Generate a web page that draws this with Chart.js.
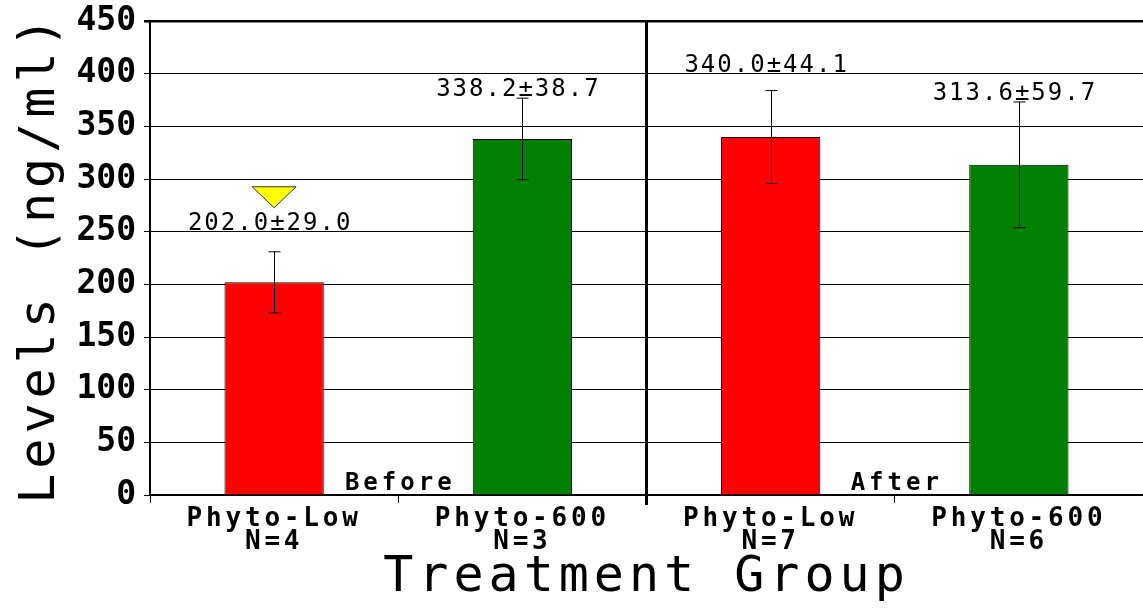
<!DOCTYPE html>
<html>
<head>
<meta charset="utf-8">
<script src="https://cdn.jsdelivr.net/npm/chart.js@4"></script>
<style>
  html, body { margin: 0; padding: 0; background: #fff; }
  canvas { display: block; }
</style>
</head>
<body>
<canvas id="levelsChart" width="1143" height="609"></canvas>
<script>
const categories = [["Phyto-Low", "N=4"], ["Phyto-600", "N=3"], ["Phyto-Low", "N=7"], ["Phyto-600", "N=6"]];
const means = [202.0, 338.2, 340.0, 313.6];
const sds = [29.0, 38.7, 44.1, 59.7];
const barColors = ["#FF0000", "#008000", "#FF0000", "#008000"];
const groups = ["Before", "After"];
const flagged = [true, false, false, false];

const MONO = "'DejaVu Sans Mono', monospace";

// letter spacing gets reset with the canvas, so it is set again at each step:
// titles (drawn with the grid), then y tick labels, then x tick labels
const spacing = {
  id: "spacing",
  beforeLayout(chart) { chart.ctx.letterSpacing = "0px"; },
  beforeDraw(chart) { chart.ctx.letterSpacing = "5px"; },
  afterInit(chart) {
    Chart.layouts.addBox(chart, {
      position: "chartArea",
      options: {},
      isHorizontal() { return false; },
      update() {},
      _layers() {
        return [{ z: 1.5, draw() { chart.ctx.letterSpacing = "3.8px"; } }];
      }
    });
  }
};

const extras = {
  id: "extras",
  afterDatasetsDraw(chart) {
    const ctx = chart.ctx;
    const x = chart.scales.x;
    const y = chart.scales.y;
    const area = chart.chartArea;
    ctx.save();

    // error bars
    ctx.strokeStyle = "#000";
    ctx.lineWidth = 1;
    means.forEach((m, i) => {
      const cx = Math.round(x.getPixelForValue(i)) + 0.5;
      const lo = y.getPixelForValue(m - sds[i]);
      const hi = y.getPixelForValue(m + sds[i]);
      ctx.beginPath();
      ctx.moveTo(cx, lo); ctx.lineTo(cx, hi);
      ctx.moveTo(cx - 6, hi); ctx.lineTo(cx + 6, hi);
      ctx.moveTo(cx - 6, lo); ctx.lineTo(cx + 6, lo);
      ctx.stroke();
    });

    // mean ± sd labels, lifted above a grid line when they would touch it
    ctx.letterSpacing = "2px";
    ctx.font = "24px " + MONO;
    ctx.fillStyle = "#000";
    ctx.textAlign = "center";
    ctx.textBaseline = "alphabetic";
    means.forEach((m, i) => {
      const cx = x.getPixelForValue(i);
      let base = y.getPixelForValue(m + sds[i]) - 2;
      const top = base - 18;
      y.ticks.forEach(t => {
        const gp = y.getPixelForValue(t.value);
        if (gp > top - 3 && gp < base) base = gp - 2;
      });
      ctx.fillText(m.toFixed(1) + "±" + sds[i].toFixed(1), cx - 4, base);

      if (flagged[i]) {
        const tip = base - 22;
        ctx.beginPath();
        ctx.moveTo(cx - 22, tip - 21);
        ctx.lineTo(cx + 22, tip - 21);
        ctx.lineTo(cx, tip);
        ctx.closePath();
        ctx.fillStyle = "#FFFF00";
        ctx.fill();
        ctx.strokeStyle = "#333";
        ctx.stroke();
        ctx.fillStyle = "#000";
      }
    });

    // group separator and group names
    const sep = (x.getPixelForValue(1) + x.getPixelForValue(2)) / 2;
    ctx.lineWidth = 3;
    ctx.strokeStyle = "#000";
    ctx.beginPath();
    ctx.moveTo(sep, area.top);
    ctx.lineTo(sep, area.bottom + 10);
    ctx.stroke();

    ctx.letterSpacing = "4px";
    ctx.font = "bold 24px " + MONO;
    ctx.textAlign = "center";
    groups.forEach((g, k) => {
      const gx = (x.getPixelForValue(2 * k) + x.getPixelForValue(2 * k + 1)) / 2;
      ctx.fillText(g, gx + 2, area.bottom - 5);
    });
    ctx.restore();
    ctx.letterSpacing = "0px";
  }
};

const ctx = document.getElementById("levelsChart").getContext("2d");
new Chart(ctx, {
  type: "bar",
  data: {
    labels: categories,
    datasets: [{
      data: means,
      backgroundColor: barColors,
      borderColor: "#000",
      borderWidth: 1,
      barPercentage: 0.4,
      categoryPercentage: 1.0
    }]
  },
  options: {
    responsive: false,
    animation: false,
    devicePixelRatio: 1,
    layout: { padding: { top: 21, right: -3, left: 0, bottom: 0 } },
    plugins: {
      legend: { display: false },
      tooltip: { enabled: false }
    },
    scales: {
      x: {
        afterFit(scale) { scale.height = 114; },
        grid: { drawOnChartArea: false, color: "#000", tickLength: 8 },
        border: { color: "#000", width: 2 },
        ticks: {
          z: 2,
          color: "#000",
          font: { family: MONO, size: 26, weight: "bold", lineHeight: 0.885 },
          padding: 5,
          autoSkip: false,
          maxRotation: 0
        },
        title: {
          display: true,
          text: "Treatment Group",
          color: "#000",
          font: { family: MONO, size: 50, lineHeight: 1 },
          padding: { top: 6, bottom: 6 }
        }
      },
      y: {
        min: 0,
        max: 450,
        afterFit(scale) { scale.width = 150; },
        grid: {
          color: "#000",
          lineWidth: c => (c.tick && c.tick.value === 450 ? 2.5 : 1),
          tickLength: 6
        },
        border: { color: "#000", width: 2 },
        ticks: {
          z: 1,
          stepSize: 50,
          color: "#000",
          font: { family: MONO, size: 33, weight: "bold", lineHeight: 0.8 },
          padding: 8
        },
        title: {
          display: true,
          text: "Levels (ng/ml)",
          color: "#000",
          font: { family: MONO, size: 50, lineHeight: 1 },
          padding: { top: 16, bottom: 0 }
        }
      }
    }
  },
  plugins: [spacing, extras]
});
</script>
</body>
</html>
